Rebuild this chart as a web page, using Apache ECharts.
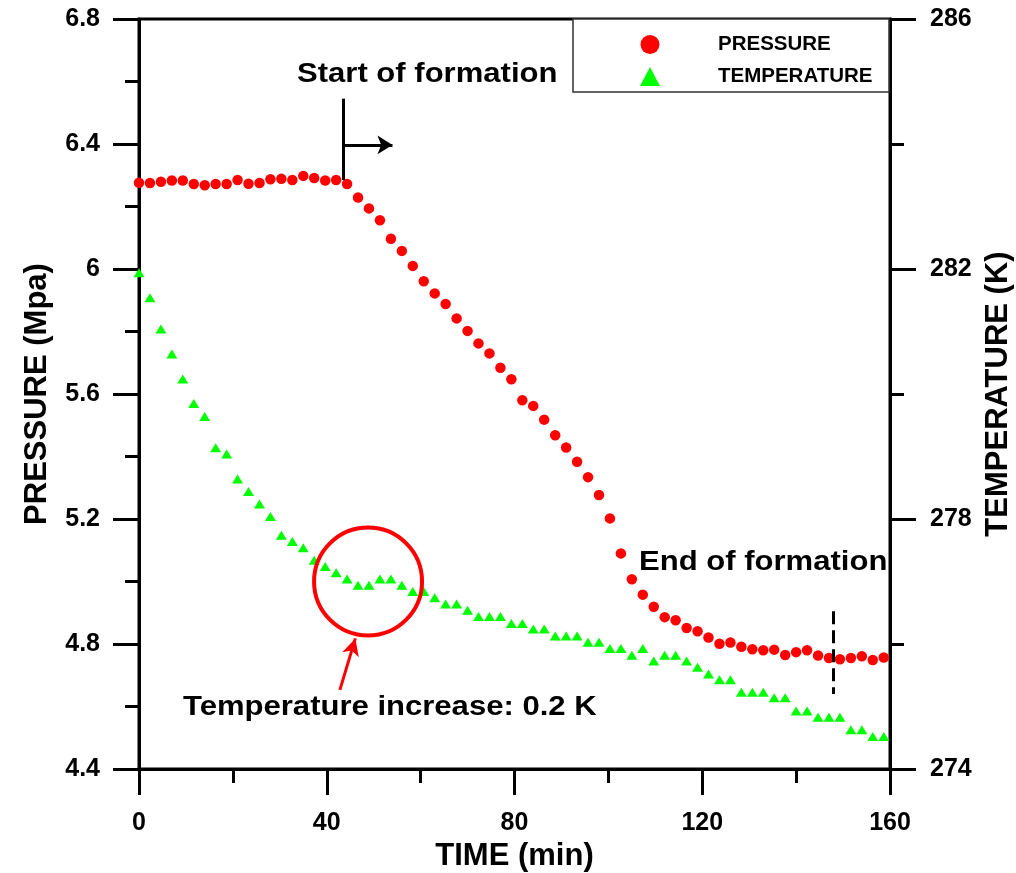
<!DOCTYPE html>
<html>
<head>
<meta charset="utf-8">
<script src="https://cdn.jsdelivr.net/npm/echarts@6/dist/echarts.min.js"></script>
<style>
  html, body { margin: 0; padding: 0; background: #fff; }
  #chart { width: 1016px; height: 873px; }
</style>
</head>
<body>
<div id="chart"></div>
<script>
// time (min), one reading every 140 s
const timeMin = [
  0, 2.33, 4.67, 7, 9.33, 11.67, 14, 16.33, 18.67, 21,
  23.33, 25.67, 28, 30.33, 32.67, 35, 37.33, 39.67, 42, 44.33,
  46.67, 49, 51.33, 53.67, 56, 58.33, 60.67, 63, 65.33, 67.67,
  70, 72.33, 74.67, 77, 79.33, 81.67, 84, 86.33, 88.67, 91,
  93.33, 95.67, 98, 100.33, 102.67, 105, 107.33, 109.67, 112, 114.33,
  116.67, 119, 121.33, 123.67, 126, 128.33, 130.67, 133, 135.33, 137.67,
  140, 142.33, 144.67, 147, 149.33, 151.67, 154, 156.33, 158.67
];

const pressure = [
  6.276, 6.275, 6.279, 6.283, 6.283, 6.272, 6.268, 6.272, 6.272, 6.285,
  6.273, 6.275, 6.287, 6.289, 6.285, 6.298, 6.291, 6.283, 6.285, 6.272,
  6.229, 6.194, 6.156, 6.097, 6.058, 6.010, 5.961, 5.922, 5.888, 5.842,
  5.802, 5.762, 5.730, 5.684, 5.647, 5.580, 5.562, 5.518, 5.468, 5.429,
  5.383, 5.334, 5.277, 5.202, 5.090, 5.007, 4.958, 4.919, 4.886, 4.876,
  4.851, 4.841, 4.821, 4.801, 4.805, 4.791, 4.783, 4.780, 4.782, 4.765,
  4.774, 4.780, 4.763, 4.755, 4.751, 4.755, 4.761, 4.749, 4.757
];

const temperature = [
  281.94, 281.54, 281.04, 280.64, 280.24, 279.85, 279.64, 279.14, 279.04, 278.64,
  278.44, 278.24, 278.04, 277.74, 277.64, 277.54, 277.34, 277.24, 277.14, 277.04,
  276.94, 276.94, 277.04, 277.04, 276.94, 276.84, 276.84, 276.74, 276.64, 276.64,
  276.54, 276.44, 276.44, 276.44, 276.33, 276.33, 276.24, 276.24, 276.13, 276.13,
  276.13, 276.03, 276.03, 275.93, 275.93, 275.82, 275.93, 275.73, 275.82, 275.82,
  275.73, 275.63, 275.52, 275.43, 275.43, 275.23, 275.23, 275.23, 275.14, 275.14,
  274.93, 274.93, 274.83, 274.83, 274.83, 274.63, 274.63, 274.52, 274.52
];

const seriesNames = ['PRESSURE', 'TEMPERATURE'];

const FONT = '"Liberation Sans", Arial, sans-serif';

let pressurePts = timeMin.map((t, i) => [t, pressure[i]]);
let tempPts = timeMin.map((t, i) => [t, temperature[i]]);

let axisCommon = {
  axisLine: { show: true, lineStyle: { color: '#000', width: 3 } },
  axisTick: { show: true, inside: false, length: 26, lineStyle: { color: '#000', width: 3 } },
  minorTick: { show: true, splitNumber: 2, length: 14, lineStyle: { color: '#000', width: 3 } },
  splitLine: { show: false },
  minorSplitLine: { show: false },
  axisLabel: { color: '#000', fontFamily: FONT, fontWeight: 'bold', fontSize: 25 },
  nameTextStyle: { color: '#000', fontFamily: FONT, fontWeight: 'bold', fontSize: 31 }
};

let annText = (x, y, text) => ({
  type: 'text',
  x: x,
  y: y,
  scaleX: 1.15,
  style: {
    text: text,
    fill: '#000',
    font: 'bold 27px ' + FONT,
    textAlign: 'left',
    verticalAlign: 'middle'
  }
});

let option = {
  animation: false,
  backgroundColor: '#fff',
  grid: {
    left: 139, right: 126, top: 19, bottom: 104,
    containLabel: false,
    outerBoundsMode: 'none',
    show: true, borderColor: '#000', borderWidth: 3, backgroundColor: 'transparent'
  },
  legend: {
    data: seriesNames,
    orient: 'vertical',
    left: 635,
    top: 29,
    itemWidth: 20,
    itemHeight: 19,
    itemGap: 11,
    textStyle: { color: '#000', fontFamily: FONT, fontWeight: 'bold', fontSize: 20.5, padding: [0, 0, 0, 53] }
  },
  xAxis: Object.assign({}, axisCommon, {
    type: 'value',
    min: 0, max: 160, interval: 40,
    name: 'TIME (min)',
    nameLocation: 'middle',
    nameGap: 70,
    axisLabel: Object.assign({}, axisCommon.axisLabel, { margin: 42 })
  }),
  yAxis: [
    Object.assign({}, axisCommon, {
      type: 'value',
      min: 4.4, max: 6.8, interval: 0.4,
      position: 'left',
      name: 'PRESSURE (Mpa)',
      nameLocation: 'middle',
      nameRotate: 90,
      nameGap: 86,
      axisLabel: Object.assign({}, axisCommon.axisLabel, { margin: 39 })
    }),
    Object.assign({}, axisCommon, {
      type: 'value',
      min: 274, max: 286, interval: 4,
      position: 'right',
      name: 'TEMPERATURE (K)',
      nameLocation: 'middle',
      nameRotate: 90,
      nameGap: 87,
      axisLabel: Object.assign({}, axisCommon.axisLabel, { margin: 40 })
    })
  ],
  series: [
    {
      name: 'PRESSURE',
      type: 'scatter',
      yAxisIndex: 0,
      symbol: 'circle',
      symbolSize: 10.5,
      itemStyle: { color: '#ff0000', opacity: 1 },
      data: pressurePts,
      z: 3,
      markLine: {
        silent: true,
        animation: false,
        label: { show: false },
        emphasis: { disabled: true },
        data: [
          // start of formation marker
          [
            { coord: [43.46, 6.545], symbol: 'none', lineStyle: { color: '#000', width: 3, type: 'solid' } },
            { coord: [43.46, 6.285], symbol: 'none' }
          ],
          [
            { coord: [43.46, 6.397], symbol: 'none', lineStyle: { color: '#000', width: 3, type: 'solid' } },
            { coord: [54.0, 6.397], symbol: 'arrow', symbolSize: [14, 15] }
          ],
          // end of formation marker
          [
            { coord: [147.9, 4.905], symbol: 'none', lineStyle: { color: '#000', width: 3, type: [13, 6] } },
            { coord: [147.9, 4.64], symbol: 'none' }
          ],
          // pointer to the temperature bump
          [
            { coord: [42.8, 4.653], symbol: 'none', lineStyle: { color: '#ff0000', width: 3, type: 'solid' } },
            { coord: [46.1, 4.818], symbol: 'arrow', symbolSize: [13, 17] }
          ]
        ]
      },
      markPoint: {
        silent: true,
        animation: false,
        label: { show: false },
        data: [
          {
            coord: [48.8, 5.0],
            symbol: 'circle',
            symbolSize: 108,
            itemStyle: { color: 'rgba(0,0,0,0)', borderColor: '#ff0000', borderWidth: 4 }
          }
        ]
      }
    },
    {
      name: 'TEMPERATURE',
      type: 'scatter',
      yAxisIndex: 1,
      symbol: 'triangle',
      symbolSize: [11, 9],
      itemStyle: { color: '#00ff00', opacity: 1 },
      data: tempPts,
      z: 2
    }
  ],
  graphic: [
    {
      type: 'rect',
      shape: { x: 573, y: 19, width: 316, height: 73 },
      style: { fill: '#fff', stroke: '#333', lineWidth: 1.5 },
      z: 1
    },
    annText(297, 75, 'Start of formation'),
    annText(639, 563, 'End of formation'),
    annText(183, 708, 'Temperature increase: 0.2 K')
  ]
};

let myChart = echarts.init(document.getElementById('chart'), null, { renderer: 'canvas' });
myChart.setOption(option);
</script>
</body>
</html>
